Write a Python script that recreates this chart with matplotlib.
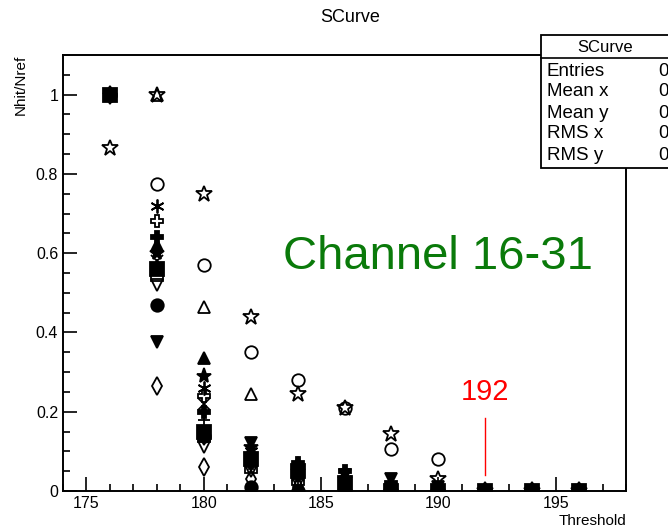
import matplotlib
matplotlib.use("Agg")
import matplotlib.pyplot as plt
from matplotlib.patches import Rectangle
from matplotlib.ticker import MultipleLocator

plt.rcParams["font.family"] = ["Liberation Sans", "DejaVu Sans"]

# thresholds scanned
thresholds = [176, 178, 180, 182, 184, 186, 188, 190, 192, 194, 196]

# Nhit/Nref per channel (16-31)
ch17 = [0.865, 1.00, 0.75, 0.44, 0.245, 0.21, 0.145, 0.03, 0, 0, 0]
ch18 = [1.00, 0.775, 0.57, 0.35, 0.28, 0.21, 0.105, 0.08, 0, 0, 0]
ch19 = [1.00, 0.72, 0.26, 0.10, 0.06, 0.03, 0.00, 0.00, 0, 0, 0]
ch20 = [1.00, 0.68, 0.24, 0.07, 0.04, 0.02, 0.00, 0.00, 0, 0, 0]
ch21 = [1.00, 0.62, 0.335, 0.09, 0.07, 0.04, 0.01, 0.00, 0, 0, 0]
ch22 = [1.00, 0.60, 0.29, 0.11, 0.05, 0.03, 0.00, 0.00, 0, 0, 0]
ch23 = [1.00, 0.545, 0.14, 0.06, 0.03, 0.01, 0.00, 0.00, 0, 0, 0]
ch24 = [1.00, 0.52, 0.11, 0.05, 0.02, 0.00, 0.00, 0.00, 0, 0, 0]
ch25 = [1.00, 0.47, 0.14, 0.01, 0.00, 0.00, 0.00, 0.00, 0, 0, 0]
ch26 = [1.00, 0.375, 0.13, 0.12, 0.05, 0.04, 0.03, 0.01, 0, 0, 0]
ch27 = [1.00, 0.265, 0.06, 0.03, 0.01, 0.00, 0.00, 0.00, 0, 0, 0]
ch28 = [1.00, 1.00, 0.465, 0.245, 0.06, 0.02, 0.00, 0.00, 0, 0, 0]
ch29 = [1.00, 0.58, 0.22, 0.08, 0.04, 0.02, 0.00, 0.00, 0, 0, 0]
ch30 = [1.00, 0.57, 0.18, 0.06, 0.03, 0.01, 0.00, 0.00, 0, 0, 0]
ch31 = [1.00, 0.64, 0.20, 0.09, 0.07, 0.05, 0.02, 0.00, 0, 0, 0]
ch16 = [1.00, 0.56, 0.15, 0.08, 0.05, 0.02, 0.00, 0.00, 0, 0, 0]

channels = [ch17, ch18, ch19, ch20, ch21, ch22, ch23, ch24,
            ch25, ch26, ch27, ch28, ch29, ch30, ch31, ch16]
# (marker, filled, size) -- filled square drawn last, it sits on top
styles = [("*", False, 12), ("o", False, 9), ((6, 2, 0), True, 10),
          ("P", False, 9), ("^", True, 9), ("*", True, 11), ("s", False, 9),
          ("v", False, 9), ("o", True, 9), ("v", True, 9), ("d", False, 9),
          ("^", False, 9), ("x", True, 8), ("+", True, 9), ("P", True, 8),
          ("s", True, 10)]

stat_rows = ["Entries", "Mean x", "Mean y", "RMS x", "RMS y"]
marked_thr = 192

fig = plt.figure(figsize=(6.68, 5.32), dpi=100)
ax = fig.add_axes([63 / 668, 41 / 532, 563 / 668, 436 / 532])

for vals, (m, filled, ms) in zip(channels, styles):
    ax.plot(thresholds, vals, linestyle="none", marker=m, markersize=ms,
            markeredgewidth=1.3, color="black",
            markerfacecolor="black" if filled else "none")

ax.set_xlim(174, 198)
ax.set_ylim(0, 1.1)
ax.xaxis.set_major_locator(MultipleLocator(5))
ax.xaxis.set_minor_locator(MultipleLocator(1))
ax.yaxis.set_minor_locator(MultipleLocator(0.05))
ax.set_yticks([0, 0.2, 0.4, 0.6, 0.8, 1.0])
ax.set_yticklabels(["0", "0.2", "0.4", "0.6", "0.8", "1"])
ax.tick_params(which="both", direction="in", top=False, right=False,
               labelsize=11.5, width=1.2)
ax.tick_params(which="major", length=10)
ax.tick_params(which="minor", length=5)
for s in ax.spines.values():
    s.set_linewidth(1.4)

ax.set_xlabel("Threshold", fontsize=11, loc="right", labelpad=2)
ax.set_ylabel("Nhit/Nref", fontsize=11, loc="top", labelpad=6)

fig.text(350 / 668, 1 - 18 / 532, "SCurve", ha="center", va="center", fontsize=13)

ax.text(190.0, 0.59, "Channel 16-31", color="#0a7a0a", fontsize=34,
        ha="center", va="center")
ax.text(marked_thr, 0.25, str(marked_thr), color="red", fontsize=21,
        ha="center", va="center")
ax.plot([marked_thr, marked_thr], [0.04, 0.185], color="red", linewidth=1)

# stats box, running off the right edge as in the original
bx0, by0, bx1, by1 = 541, 35, 700, 168
fig.patches.append(Rectangle((bx0 / 668, 1 - by1 / 532), (bx1 - bx0) / 668,
                             (by1 - by0) / 532, transform=fig.transFigure,
                             facecolor="white", edgecolor="black", linewidth=1.3,
                             zorder=5))
fig.lines.append(plt.Line2D([bx0 / 668, 1], [1 - 58 / 532, 1 - 58 / 532],
                            transform=fig.transFigure, color="black",
                            linewidth=1.2, zorder=6))
fig.text(605 / 668, 1 - 47 / 532, "SCurve", ha="center", va="center",
         fontsize=12, zorder=7)
for i, r in enumerate(stat_rows):
    yy = 1 - (71 + i * 21) / 532
    fig.text(547 / 668, yy, r, ha="left", va="center", fontsize=13.5, zorder=7)
    fig.text(658 / 668, yy, "0", ha="left", va="center", fontsize=13.5, zorder=7)

fig.savefig("out.png", dpi=100)
